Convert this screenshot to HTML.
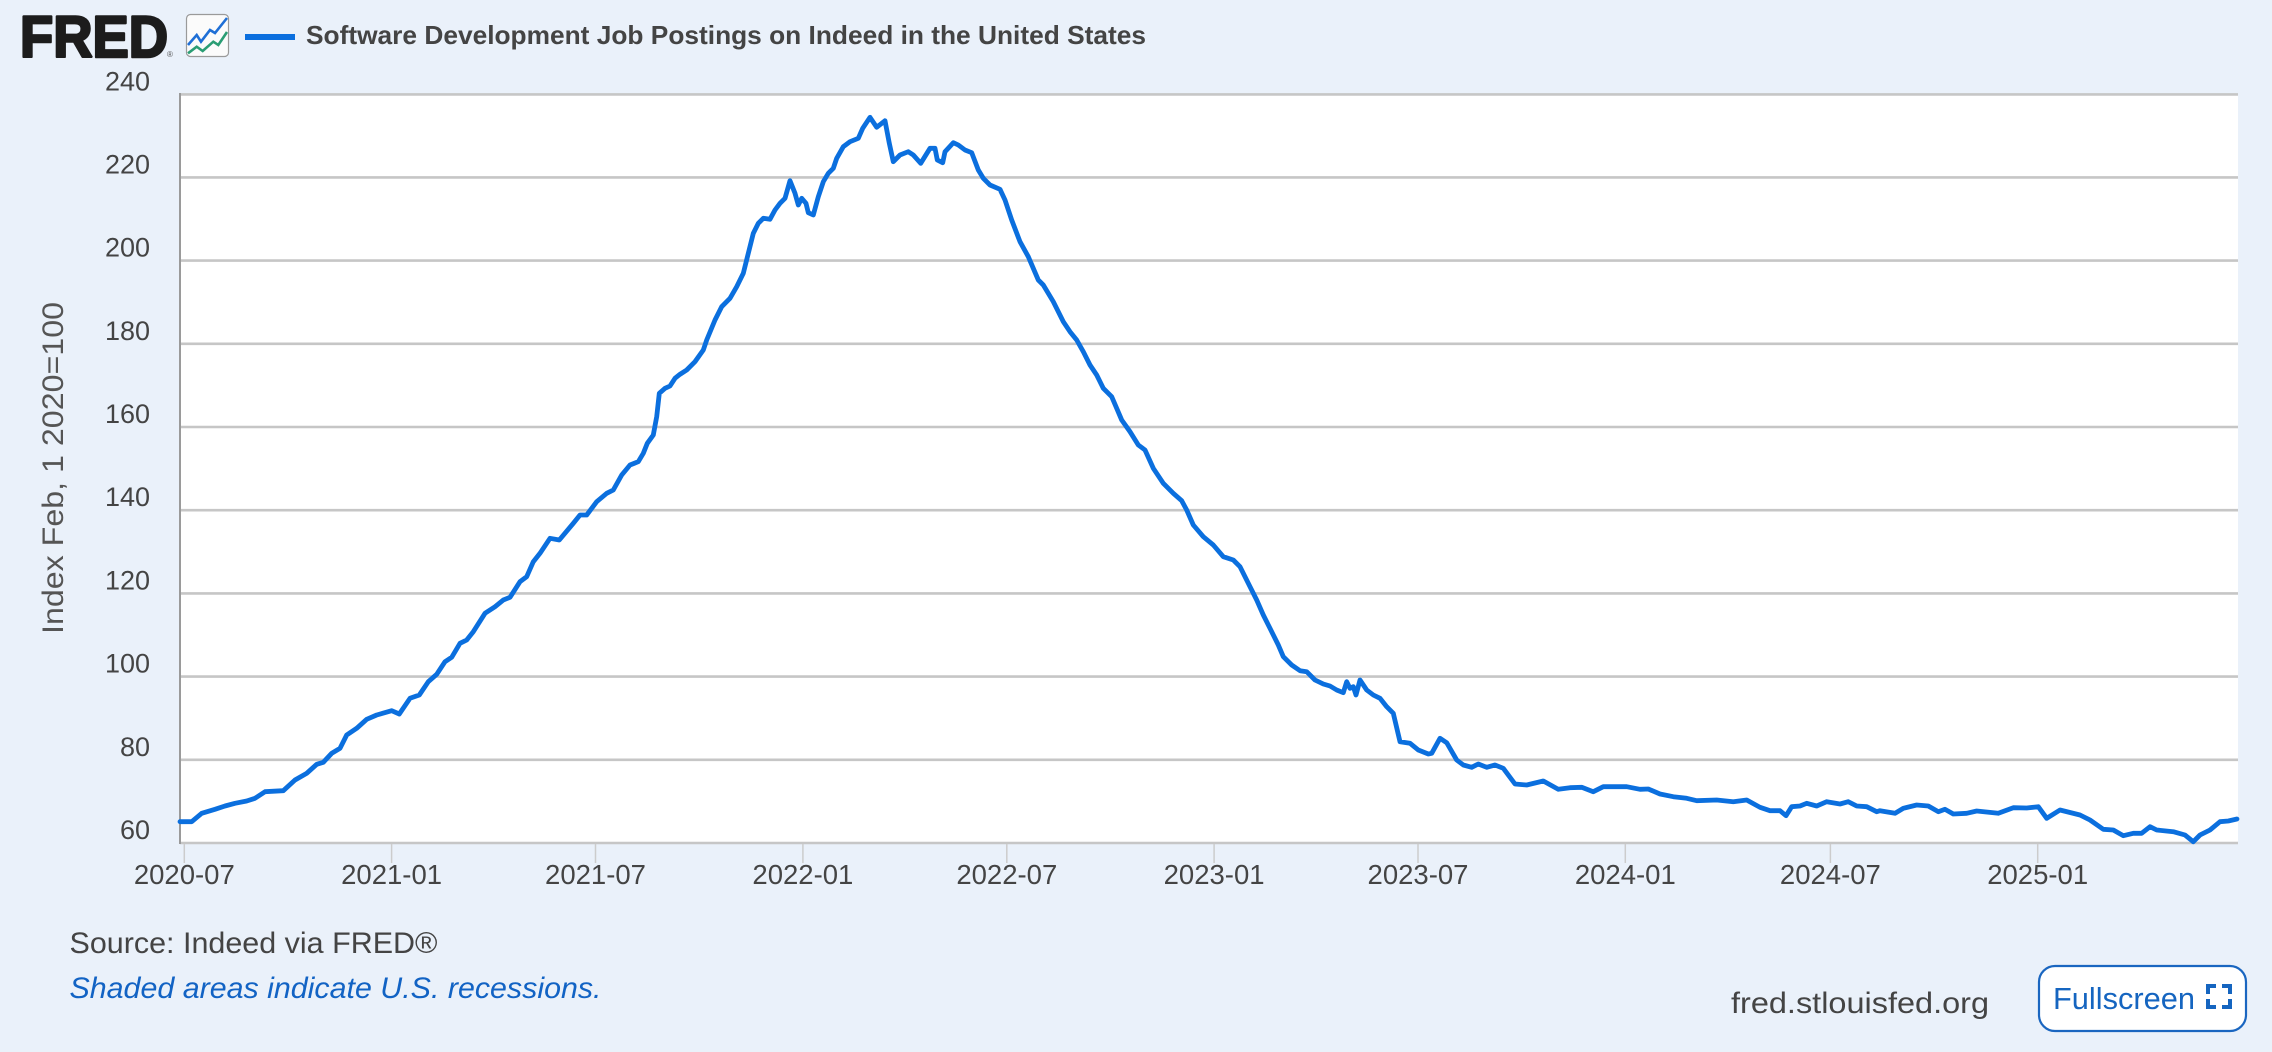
<!DOCTYPE html>
<html>
<head>
<meta charset="utf-8">
<style>
html,body{margin:0;padding:0;background:#eaf1fa;}
svg{display:block;}
text{font-family:"Liberation Sans",sans-serif;}
</style>
</head>
<body>
<svg width="2272" height="1052" viewBox="0 0 2272 1052" xmlns="http://www.w3.org/2000/svg">
<rect x="0" y="0" width="2272" height="1052" fill="#eaf1fa"/>

<!-- FRED logo -->
<text x="20" y="57" font-size="58" font-weight="bold" fill="#1c1c1c" stroke="#1c1c1c" stroke-width="2.6" stroke-linejoin="round" textLength="148" lengthAdjust="spacingAndGlyphs">FRED</text>
<text x="167" y="57" font-size="8" fill="#555">®</text>
<rect x="186.5" y="14.5" width="42" height="42" rx="4" fill="#fbfbfb" stroke="#9a9a9a" stroke-width="1.2"/>
<polyline points="188,45 196.7,35 201,41.7 210,30 215,33 227,18" fill="none" stroke="#1f6fd6" stroke-width="2.6"/>
<polyline points="188,53.3 196.7,46.7 202.7,51 213.3,41.7 218.3,45 227,32" fill="none" stroke="#2a9d74" stroke-width="2.6"/>

<!-- legend + title -->
<line x1="245" y1="37" x2="295" y2="37" stroke="#0b6fde" stroke-width="6"/>
<text x="306" y="44" font-size="26" font-weight="bold" fill="#444" textLength="840" lengthAdjust="spacingAndGlyphs">Software Development Job Postings on Indeed in the United States</text>

<!-- plot area -->
<rect x="180" y="94" width="2058" height="749" fill="#ffffff"/>
<g stroke="#c6c6c6" stroke-width="2.6">
<line x1="180" y1="94.4" x2="2238" y2="94.4"/>
<line x1="180" y1="177.4" x2="2238" y2="177.4"/>
<line x1="180" y1="260.6" x2="2238" y2="260.6"/>
<line x1="180" y1="343.8" x2="2238" y2="343.8"/>
<line x1="180" y1="427" x2="2238" y2="427"/>
<line x1="180" y1="510.2" x2="2238" y2="510.2"/>
<line x1="180" y1="593.4" x2="2238" y2="593.4"/>
<line x1="180" y1="676.6" x2="2238" y2="676.6"/>
<line x1="180" y1="759.8" x2="2238" y2="759.8"/>
<line x1="180" y1="843" x2="2238" y2="843"/>
</g>
<line x1="180" y1="93" x2="180" y2="844" stroke="#9a9a9a" stroke-width="2"/>

<!-- x ticks -->
<g stroke="#cccccc" stroke-width="1.5">
<line x1="184.3" y1="844" x2="184.3" y2="863"/>
<line x1="391.6" y1="844" x2="391.6" y2="863"/>
<line x1="595.5" y1="844" x2="595.5" y2="863"/>
<line x1="802.9" y1="844" x2="802.9" y2="863"/>
<line x1="1006.8" y1="844" x2="1006.8" y2="863"/>
<line x1="1214.1" y1="844" x2="1214.1" y2="863"/>
<line x1="1418" y1="844" x2="1418" y2="863"/>
<line x1="1625.3" y1="844" x2="1625.3" y2="863"/>
<line x1="1830.4" y1="844" x2="1830.4" y2="863"/>
<line x1="2037.7" y1="844" x2="2037.7" y2="863"/>
</g>

<!-- y labels -->
<g font-size="27" fill="#444" text-anchor="end">
<text x="150" y="90.4">240</text>
<text x="150" y="173.4">220</text>
<text x="150" y="256.6">200</text>
<text x="150" y="339.8">180</text>
<text x="150" y="423">160</text>
<text x="150" y="506.2">140</text>
<text x="150" y="589.4">120</text>
<text x="150" y="672.6">100</text>
<text x="150" y="755.8">80</text>
<text x="150" y="839">60</text>
</g>

<!-- x labels -->
<g font-size="27.5" fill="#444" text-anchor="middle">
<text x="184.3" y="884">2020-07</text>
<text x="391.6" y="884">2021-01</text>
<text x="595.5" y="884">2021-07</text>
<text x="802.9" y="884">2022-01</text>
<text x="1006.8" y="884">2022-07</text>
<text x="1214.1" y="884">2023-01</text>
<text x="1418" y="884">2023-07</text>
<text x="1625.3" y="884">2024-01</text>
<text x="1830.4" y="884">2024-07</text>
<text x="2037.7" y="884">2025-01</text>
</g>

<!-- y axis title -->
<text transform="translate(63,468) rotate(-90)" x="0" y="0" font-size="30" fill="#555" text-anchor="middle" textLength="332" lengthAdjust="spacingAndGlyphs">Index Feb, 1 2020=100</text>

<!-- series -->
<polyline fill="none" stroke="#0b6fde" stroke-width="4.8" stroke-linejoin="round" stroke-linecap="round" points="
180,821.7 191.7,821.7 201.7,813.3 215,809.3 225,806 235,803.3 246.7,801 255,798.3 265,791.7 283.3,790.7
295,780 306.7,773.3 316.7,764.3 323.3,762.3 331.7,753.3 340,748.3 346.7,735 356.7,728.3 366.7,719.3 376.7,715
391.7,710.7 399.3,714 410,698.3 419.3,695 428.3,681.7 436.7,674.3 445,661.7 451.7,657.3 460,643.3 466.7,640
473.3,631.7 485,613.3 495,606.7 503.3,600 510,597.3 520,581.7 526.7,576.7 533.3,561.7 540,553.3 550,538.3
559.3,540 573.3,523.3 580,515 586.7,515 596.7,501.7 606.7,493.3 613.3,490 621.7,475 630,465 638.3,461.7
643.3,453.3 647.3,443.3 653.3,435 656.7,416.7 659.3,393.3 665,388.3 670,386 675,378.3 680,374.3 686.7,370
695,361.7 703.3,350 706.7,340 715,320 721.7,306.7 730,298.3 736.7,286.7 743.3,273.3 748.3,253.3 753.3,233.3
758.3,223.3 763.3,218.3 770,219.3 775,210 780,203.3 785,198.3 790,180.7 795,193.3 798.3,205 801.7,198.3
806,203.3 808.3,212.7 813.3,215 818.3,196.7 823.3,181.7 828.3,173.3 833.3,168.3 836.7,158.3 843.3,146.7 850,141.7
858.3,138.3 862.7,128.3 870,117.3 876.7,127.3 885,120.7 889.3,143.3 893.3,161.7 900,155 908.3,151.7 913.3,155
920.7,163.3 930,148.3 935,148.3 937.3,160 942.7,162.7 945,151.7 953.3,142.7 958.3,145 965,150 971.7,152.7
978.3,170 983.3,178.3 990,185 1000,189.3 1005,200 1011.7,220 1020,241.7 1028.3,256.7 1038.3,280 1043.3,285
1053.3,301.7 1063.3,321.7 1070,331.7 1076.7,340 1083.3,351.7 1090,365 1096.7,375 1103.3,388.3 1111.7,396.7 1116.7,408.3
1121.7,420 1130,431.7 1138.3,445 1145,450 1153.3,468.3 1163.3,483.3 1173.3,493.3 1181.7,500.7 1186.7,510 1193.3,525
1203.3,536.7 1213.3,545 1223.3,556.7 1233.3,560 1240,566.7 1250,586.7 1256.7,600 1263.3,615 1270,628.3 1278.3,645
1283.3,656.7 1291.7,665 1300,670.7 1306.7,671.7 1315,680 1323.3,684 1330,686 1336.7,690 1343.3,692.7 1346.7,681.7
1350,688.3 1353.3,686.7 1356,695 1360,680 1366.7,690 1373.3,695 1380,698.3 1386.7,706.7 1393.3,713.3 1400,741.7
1410,743.3 1418.3,750 1428.3,754 1431.7,753.3 1440,738.3 1446.7,742.7 1456.7,760 1463.3,765 1471.7,767.3 1478.3,764
1486.7,767.3 1495,765 1503.3,768.3 1515,784 1526.7,785 1543.3,781 1558.3,789.3 1570,787.7 1581.7,787.3 1593.3,791.7
1603.3,786.7 1626.7,786.7 1640,789.3 1648.3,789 1660,794 1673.3,796.7 1686.7,798.3 1696.7,800.7 1716.7,800 1733.3,801.7
1746.7,800 1760,807.3 1770,810.7 1780,810.7 1786,815.7 1791.7,806.7 1800,806 1806.7,803.3 1816.7,806 1826.7,801.7
1840,804 1848.3,801.7 1856.7,806 1866.7,806.7 1876.7,811.7 1880,810.7 1895,813.3 1903.3,808.3 1916.7,805 1928.3,806
1938.3,811.7 1945,809.3 1953.3,814 1966.7,813.3 1976.7,811 1998.3,813.3 2013.3,807.7 2026.7,808 2038.3,806.7 2046.7,818.3
2060,810 2080,815 2090,820 2103.3,829.3 2113.3,830 2123.3,835.7 2133.3,833.3 2141.7,833.3 2150,826.7 2156.7,830
2173.3,831.7 2185,835 2193.3,841.7 2200,835 2210,830 2220,821.7 2228.3,821 2237,819"/>

<!-- footer -->
<text x="69.5" y="953" font-size="30" fill="#444" textLength="368" lengthAdjust="spacingAndGlyphs">Source: Indeed via FRED®</text>
<text x="69.5" y="998" font-size="30" font-style="italic" fill="#1263c4" textLength="532" lengthAdjust="spacingAndGlyphs">Shaded areas indicate U.S. recessions.</text>
<text x="1731" y="1013" font-size="30" fill="#444" textLength="258" lengthAdjust="spacingAndGlyphs">fred.stlouisfed.org</text>

<rect x="2039" y="966" width="207" height="65" rx="16" fill="#ffffff" stroke="#1a66c0" stroke-width="2.2"/>
<text x="2053" y="1009" font-size="31" fill="#1565c0" textLength="142" lengthAdjust="spacingAndGlyphs">Fullscreen</text>
<g fill="none" stroke="#1565c0" stroke-width="4">
<polyline points="2208,994 2208,986 2216,986"/>
<polyline points="2222,986 2230,986 2230,994"/>
<polyline points="2208,999 2208,1007 2216,1007"/>
<polyline points="2222,1007 2230,1007 2230,999"/>
</g>
</svg>
</body>
</html>
